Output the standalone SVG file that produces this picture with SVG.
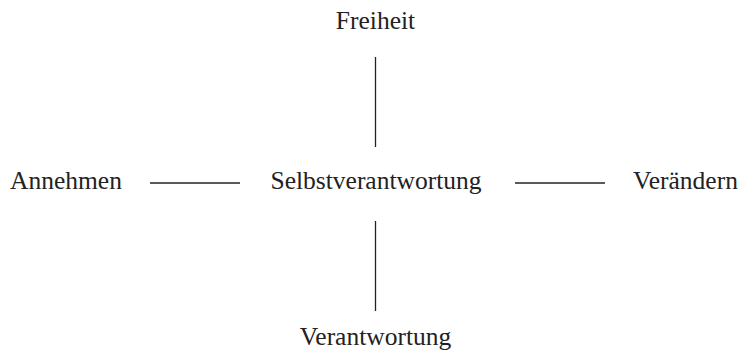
<svg xmlns="http://www.w3.org/2000/svg" width="741" height="355" viewBox="0 0 741 355">
<style>
.t{font-family:"Liberation Serif","DejaVu Serif",serif;font-size:25.5px;fill:#222}
.c line{stroke:#222;stroke-width:1.3}
</style>
<rect width="741" height="355" fill="#fff"/>
<g class="c" id="connectors">
<line x1="375.5" y1="57" x2="375.5" y2="147"/>
<line x1="375.5" y1="221" x2="375.5" y2="311"/>
<line x1="150" y1="183" x2="240" y2="183"/>
<line x1="515" y1="183" x2="605" y2="183"/>
</g>
<g id="freiheit"><text class="t" x="375.5" y="29" text-anchor="middle">Freiheit</text></g>
<g id="annehmen"><text class="t" x="66" y="189" text-anchor="middle">Annehmen</text></g>
<g id="selbstverantwortung"><text class="t" x="376" y="189" text-anchor="middle">Selbstverantwortung</text></g>
<g id="veraendern"><text class="t" x="685.5" y="189" text-anchor="middle">Verändern</text></g>
<g id="verantwortung"><text class="t" x="375.5" y="345" text-anchor="middle">Verantwortung</text></g>
</svg>
